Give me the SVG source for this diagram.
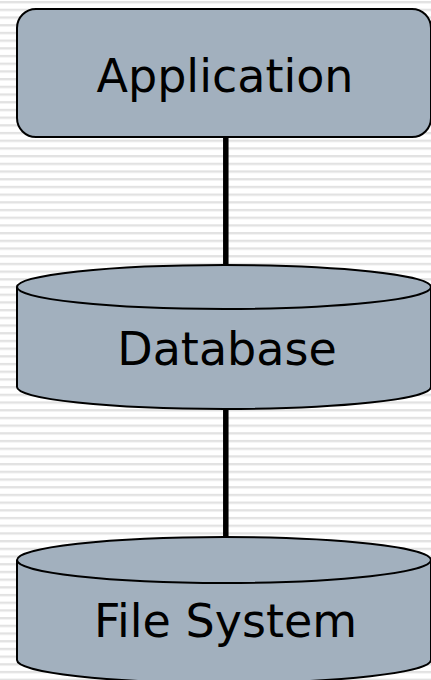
<svg xmlns="http://www.w3.org/2000/svg" width="431" height="680" viewBox="0 0 431 680">
  <defs>
    <pattern id="lines" x="0" y="1" width="431" height="7.7" patternUnits="userSpaceOnUse">
      <rect x="0" y="0" width="431" height="7.7" fill="#ffffff"/>
      <rect x="0" y="0" width="431" height="2" fill="#e2e2e2"/>
      <rect x="0" y="2" width="431" height="0.8" fill="#f0f0f0"/>
    </pattern>
    <style>
      .shape { fill: #a2b0be; stroke: #000; stroke-width: 2; }
      .label { font-family: "DejaVu Sans", "Liberation Sans", sans-serif; font-size: 46px; fill: #000; text-anchor: middle; }
      .conn { stroke: #000; stroke-width: 5.5; fill: none; }
    </style>
  </defs>
  <rect x="0" y="0" width="431" height="680" fill="url(#lines)"/>

  <g id="connectors">
    <line class="conn" x1="225.8" y1="137" x2="225.8" y2="266"/>
    <line class="conn" x1="225.8" y1="409" x2="225.8" y2="538"/>
  </g>

  <g id="application">
    <rect class="shape" x="17" y="9" width="414" height="128" rx="19" ry="19"/>
    <text class="label" x="225" y="92">Application</text>
  </g>

  <g id="database">
    <path class="shape" d="M17,287 L17,387 A207,22 0 0 0 431,387 L431,287 A207,22 0 0 0 17,287 Z"/>
    <path class="shape" d="M17,287 A207,22 0 0 0 431,287" fill="none" style="fill:none"/>
    <text class="label" x="227" y="365">Database</text>
  </g>

  <g id="filesystem">
    <path class="shape" d="M17,560 L17,660 A207,23 0 0 0 431,660 L431,560 A207,23 0 0 0 17,560 Z"/>
    <path class="shape" d="M17,560 A207,23 0 0 0 431,560" style="fill:none"/>
    <text class="label" x="225.5" y="637">File System</text>
  </g>
</svg>
